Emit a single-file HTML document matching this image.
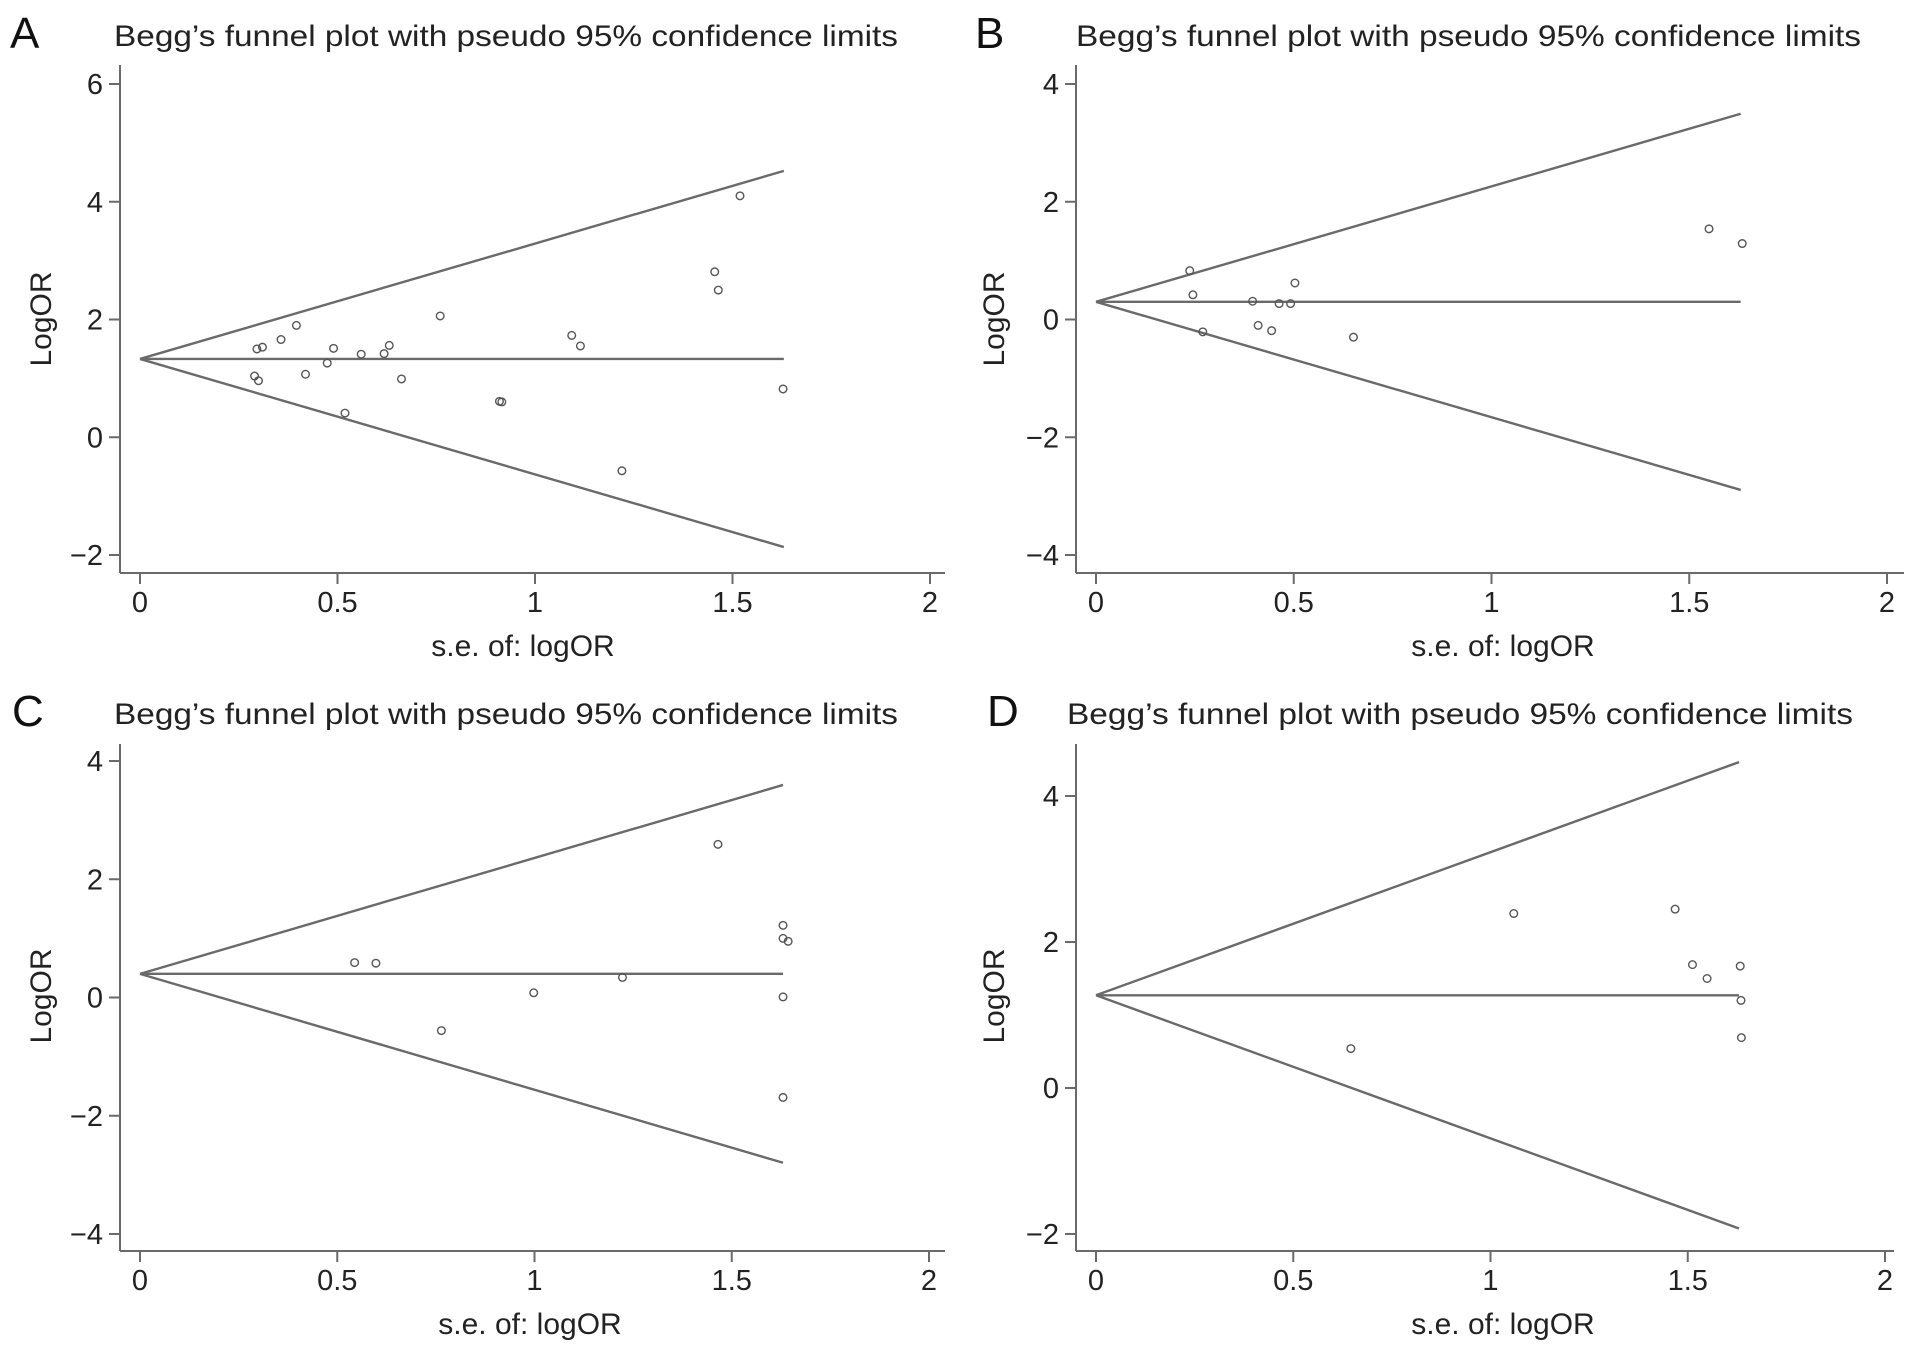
<!DOCTYPE html>
<html><head><meta charset="utf-8"><style>
html,body{margin:0;padding:0;background:#fff;}
svg{display:block;font-family:"Liberation Sans",Arial,sans-serif;}
</style></head><body>
<svg id="fig" width="1913" height="1356" viewBox="0 0 1913 1356" xmlns="http://www.w3.org/2000/svg"></svg>
<script>
// Panel A
const seA = [0.296,0.31,0.29,0.30,0.357,0.396,0.419,0.474,0.49,0.519,0.56,0.618,0.631,0.662,0.76,0.91,0.916,1.093,1.115,1.22,1.455,1.464,1.519,1.628];
const orA = [1.50,1.53,1.04,0.96,1.66,1.90,1.07,1.26,1.51,0.41,1.41,1.42,1.56,0.99,2.06,0.61,0.60,1.73,1.55,-0.57,2.81,2.50,4.10,0.82];
const pooledA = 1.33;
// Panel B
const seB = [0.237,0.245,0.27,0.396,0.41,0.444,0.463,0.492,0.503,0.651,1.55,1.634];
const orB = [0.83,0.42,-0.21,0.31,-0.10,-0.19,0.27,0.27,0.62,-0.30,1.54,1.29];
const pooledB = 0.30;
// Panel C
const seC = [0.544,0.598,0.764,0.998,1.223,1.465,1.63,1.63,1.643,1.63,1.63];
const orC = [0.59,0.58,-0.56,0.08,0.34,2.59,1.22,1.00,0.95,0.01,-1.69];
const pooledC = 0.40;
// Panel D
const seD = [0.646,1.059,1.468,1.512,1.549,1.633,1.635,1.636];
const orD = [0.54,2.39,2.45,1.69,1.50,1.67,1.20,0.69];
const pooledD = 1.27;
const maxSe = 1.63;
const xTicks = [0,0.5,1,1.5,2];
const xTickLabels = ["0","0.5","1","1.5","2"];
const yTicksA = [-2,0,2,4,6];
const yTicksB = [-4,-2,0,2,4];
const yTicksC = [-4,-2,0,2,4];
const yTicksD = [-2,0,2,4];
const yTickLabel = v => v < 0 ? "\u2212" + Math.abs(v) : String(v);

const NS = "http://www.w3.org/2000/svg";
const svg = document.getElementById("fig");
function mk(tag, attrs, parent) {
  const e = document.createElementNS(NS, tag);
  for (const k in attrs) e.setAttribute(k, attrs[k]);
  (parent || svg).appendChild(e);
  return e;
}
const GR = "#6a6a6a";

function panel(p) {
  const g = mk("g", {});
  
  
  const sx = v => p.x0 + (p.x2 - p.x0) * v / 2;
  const sy = v => p.yA + (p.yB - p.yA) * (v - p.vA) / (p.vB - p.vA);
  // letter
  const L = mk("text", {x: p.lx, y: p.ty + 2, "font-size": 44, fill: "#111"}, g);
  L.textContent = p.letter;
  
  
  const T = mk("text", {x: p.tx, y: p.ty, "font-size": 30, fill: "#222", textLength: p.tw, lengthAdjust: "spacingAndGlyphs"}, g);
  T.textContent = "Begg\u2019s funnel plot with pseudo 95% confidence limits";
  
  
  // axes
  const ya = mk("line", {x1: p.ax, y1: p.atop, x2: p.ax, y2: p.axY, stroke: GR, "stroke-width": 2}, g);
  
  
  const xa = mk("line", {x1: p.ax, y1: p.axY, x2: p.aright, y2: p.axY, stroke: GR, "stroke-width": 2}, g);
  
  
  p.yTicks.forEach(v => {
    const y = sy(v);
    const tk = mk("line", {x1: p.ax - 11, y1: y, x2: p.ax, y2: y, stroke: GR, "stroke-width": 2}, g);
    
    
    const t = mk("text", {x: p.ax - 17, y: y + 10, "font-size": 29, "text-anchor": "end", fill: "#222"}, g);
    t.textContent = yTickLabel(v);
    
    
  });
  xTicks.forEach((v, i) => {
    const x = sx(v);
    const tk = mk("line", {x1: x, y1: p.axY, x2: x, y2: p.axY + 11, stroke: GR, "stroke-width": 2}, g);
    
    
    const t = mk("text", {x: x, y: p.axY + 39, "font-size": 29, "text-anchor": "middle", fill: "#222"}, g);
    t.textContent = xTickLabels[i];
    
    
  });
  const xl = mk("text", {x: p.xlx, y: p.axY + 83, "font-size": 30, "text-anchor": "middle", fill: "#222"}, g);
  xl.textContent = "s.e. of: logOR";
  
  
  const yl = mk("text", {x: 0, y: 0, "font-size": 30, "text-anchor": "middle", fill: "#222", transform: "translate(" + (p.ylx + 11) + "," + p.yly + ") rotate(-90)"}, g);
  yl.textContent = "LogOR";
  
  
  // funnel lines
  const px = sx(0), py = sy(p.pooled), ex = sx(maxSe);
  const up = mk("line", {x1: px, y1: py, x2: ex, y2: sy(p.pooled + 1.96 * maxSe), stroke: GR, "stroke-width": 2.4}, g);
  
  
  const lo = mk("line", {x1: px, y1: py, x2: ex, y2: sy(p.pooled - 1.96 * maxSe), stroke: GR, "stroke-width": 2.4}, g);
  
  
  const mid = mk("line", {x1: px, y1: py, x2: ex, y2: py, stroke: GR, "stroke-width": 2.4}, g);
  
  
  p.se.forEach((s, i) => {
    const c = mk("circle", {cx: sx(s), cy: sy(p.or[i]), r: 3.8, fill: "none", stroke: "#555", "stroke-width": 1.4}, g);
    
    
  });
}

panel({letter:"A", lx:10, tx:114, tw:784, ty:46, x0:140, x2:930, vA:6, yA:84, vB:-2, yB:555, ax:120, atop:65, axY:573, aright:945, xlx:523, ylx:40, yly:319, yTicks:yTicksA, se:seA, or:orA, pooled:pooledA});
panel({letter:"B", lx:975, tx:1076, tw:785, ty:46, x0:1096, x2:1887, vA:4, yA:84, vB:-4, yB:555, ax:1076, atop:65, axY:573, aright:1904, xlx:1503, ylx:993, yly:319, yTicks:yTicksB, se:seB, or:orB, pooled:pooledB});
panel({letter:"C", lx:12, tx:114, tw:784, ty:724, x0:140, x2:929, vA:4, yA:761, vB:-4, yB:1234, ax:120, atop:744, axY:1251, aright:945, xlx:530, ylx:40, yly:996, yTicks:yTicksC, se:seC, or:orC, pooled:pooledC});
panel({letter:"D", lx:987, tx:1067, tw:786, ty:724, x0:1096, x2:1885, vA:4, yA:796, vB:-2, yB:1234, ax:1076, atop:744, axY:1251, aright:1894, xlx:1503, ylx:993, yly:996, yTicks:yTicksD, se:seD, or:orD, pooled:pooledD});
</script>
</body></html>
